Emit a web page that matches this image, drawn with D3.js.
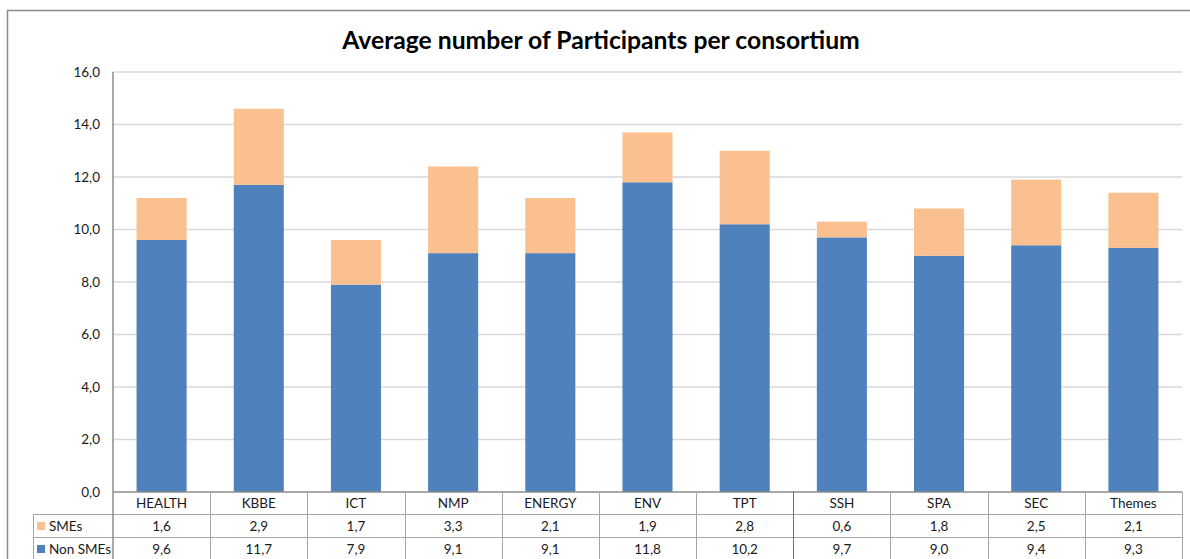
<!DOCTYPE html>
<html><head><meta charset="utf-8">
<script src="https://cdn.jsdelivr.net/npm/d3@7"></script>
<style>body{margin:0;background:#fff}svg{display:block}</style>
</head><body>
<svg id="c" width="1190" height="559"></svg>
<script>
const categories = ["HEALTH","KBBE","ICT","NMP","ENERGY","ENV","TPT","SSH","SPA","SEC","Themes"];
const smes = [1.6,2.9,1.7,3.3,2.1,1.9,2.8,0.6,1.8,2.5,2.1];
const nonSmes = [9.6,11.7,7.9,9.1,9.1,11.8,10.2,9.7,9.0,9.4,9.3];
const yTicks = [0,2,4,6,8,10,12,14,16];
const seriesNames = ["SMEs","Non SMEs"];
const colors = {"SMEs":"#FAC090","Non SMEs":"#4F81BD"};
const chartTitle = "Average number of Participants per consortium";

(function(){
const svg = d3.select("#c");
const font = "Lato, 'Open Sans', sans-serif";
const fmt = v => d3.format(".1f")(v).replace(".", ",");

const pL = 113, pR = 1182, pT = 72, pB = 492;
const x = d3.scaleBand().domain(categories).range([pL, pR]).paddingInner(0.485).paddingOuter(0.2425);
const xCol = d3.scaleBand().domain(categories).range([pL, pR]);
const y = d3.scaleLinear().domain([0,16]).range([pB, pT]);

// outer border
svg.append("rect").attr("x",7.5).attr("y",10.5).attr("width",1200).attr("height",600)
  .attr("fill","none").attr("stroke","#8c8c8c").attr("stroke-width",1.5);

// title
svg.append("text").attr("x",601).attr("y",49).attr("text-anchor","middle")
  .attr("font-family",font).attr("font-weight","bold").attr("font-size",24.7).attr("fill","#000").text(chartTitle);

// gridlines
svg.append("g").selectAll("line").data(yTicks.filter(d=>d>0)).join("line")
  .attr("x1",pL).attr("x2",pR).attr("y1",d=>y(d)).attr("y2",d=>y(d))
  .attr("stroke","#d9d9d9").attr("stroke-width",1.5);

// y labels
svg.append("g").selectAll("text").data(yTicks).join("text")
  .attr("x",100).attr("y",d=>y(d)+4.5).attr("text-anchor","end")
  .attr("font-family",font).attr("font-size",13.5).attr("fill","#1a1a1a").text(fmt);

// stacked bars
const stackData = categories.map((c,i)=>({cat:c,"Non SMEs":nonSmes[i],"SMEs":smes[i]}));
const stack = d3.stack().keys(["Non SMEs","SMEs"])(stackData);
svg.append("g").selectAll("g").data(stack).join("g").attr("fill",d=>colors[d.key])
  .selectAll("rect").data(d=>d).join("rect")
  .attr("x",d=>x(d.data.cat)).attr("width",x.bandwidth())
  .attr("y",d=>y(d[1])).attr("height",d=>y(d[0])-y(d[1]));

// y axis line
svg.append("line").attr("x1",pL).attr("x2",pL).attr("y1",pT).attr("y2",pB)
  .attr("stroke","#8c8c8c").attr("stroke-width",1.5);

// data table
const r0 = pB, r1 = 514, r2 = 537, r3 = 560, tLeft = 33;
const tg = svg.append("g").attr("stroke","#a6a6a6").attr("stroke-width",1);
tg.append("line").attr("x1",pL).attr("x2",pR).attr("y1",r0).attr("y2",r0).attr("stroke","#8c8c8c").attr("stroke-width",1.5);
[r1,r2].forEach(r=>tg.append("line").attr("x1",tLeft).attr("x2",pR).attr("y1",r+0.5).attr("y2",r+0.5));
tg.append("line").attr("x1",tLeft+0.5).attr("x2",tLeft+0.5).attr("y1",r1).attr("y2",r3);
tg.append("line").attr("x1",pL).attr("x2",pL).attr("y1",r0).attr("y2",r3).attr("stroke","#8c8c8c").attr("stroke-width",1.5);
categories.forEach((c,i)=>{
  const xr = Math.round(xCol(c)+xCol.bandwidth())+0.5;
  tg.append("line").attr("x1",xr).attr("x2",xr).attr("y1",r0).attr("y2",r3)
    .attr("stroke", c==="TPT" ? "#707070" : "#a6a6a6");
});

const tt = svg.append("g").attr("font-family",font).attr("font-size",13.5).attr("fill","#1a1a1a").attr("text-anchor","middle");
tt.selectAll(".cat").data(categories).join("text").attr("class","cat")
  .attr("x",d=>xCol(d)+xCol.bandwidth()/2).attr("y",508).text(d=>d);
tt.selectAll(".sme").data(smes).join("text").attr("class","sme")
  .attr("x",(d,i)=>xCol(categories[i])+xCol.bandwidth()/2).attr("y",531).text(fmt);
tt.selectAll(".non").data(nonSmes).join("text").attr("class","non")
  .attr("x",(d,i)=>xCol(categories[i])+xCol.bandwidth()/2).attr("y",554).text(fmt);

// legend keys in table
seriesNames.forEach((s,i)=>{
  const ry = i===0 ? r1 : r2;
  svg.append("rect").attr("x",37).attr("y",ry+8).attr("width",8).attr("height",8).attr("fill",colors[s]);
  svg.append("text").attr("x",49).attr("y",ry+17).attr("font-family",font).attr("font-size",13.5).attr("fill","#1a1a1a").text(s);
});
})();
</script>
</body></html>
